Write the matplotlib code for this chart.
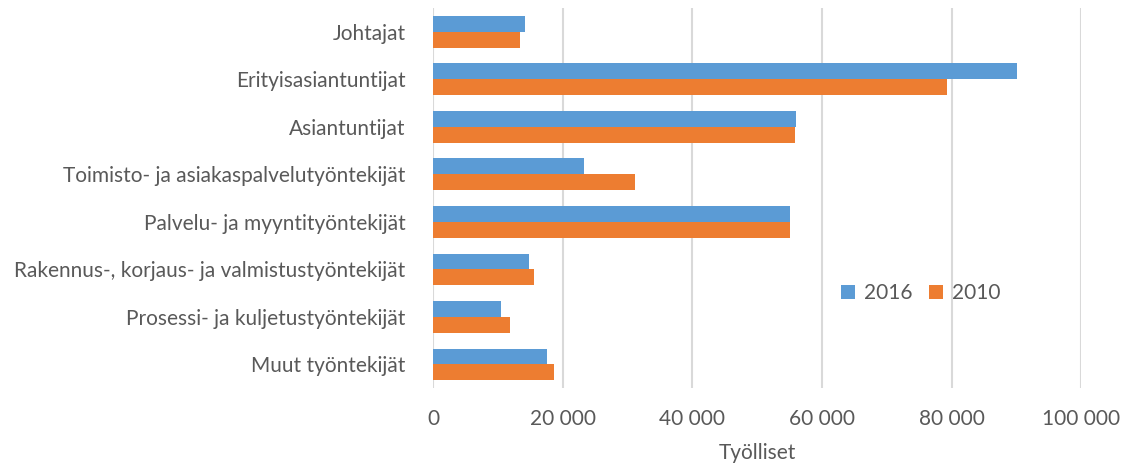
import matplotlib
matplotlib.use("Agg")
import matplotlib.pyplot as plt
import matplotlib.ticker as mticker
import numpy as np

categories = ["Johtajat", "Erityisasiantuntijat", "Asiantuntijat",
              "Toimisto- ja asiakaspalvelutyöntekijät",
              "Palvelu- ja myyntityöntekijät",
              "Rakennus-, korjaus- ja valmistustyöntekijät",
              "Prosessi- ja kuljetustyöntekijät", "Muut työntekijät"]
v2016 = [14200, 90100, 56000, 23200, 55000, 14700, 10500, 17600]
v2010 = [13300, 79300, 55900, 31200, 55000, 15500, 11800, 18600]
xticks = [0, 20000, 40000, 60000, 80000, 100000]

plt.rcParams['font.family'] = ['Lato', 'DejaVu Sans']
txt = "#595959"
fs = 15

fig = plt.figure(figsize=(11.25, 4.66), dpi=100)
ax = fig.add_axes([0.3853, 0.167, 0.9609 - 0.3853, 0.816])

y = np.arange(len(categories))
h = 0.333
ax.barh(y - h / 2, v2016, height=h, color="#5B9BD5", label="2016", zorder=3)
ax.barh(y + h / 2, v2010, height=h, color="#ED7D31", label="2010", zorder=3)

ax.set_ylim(len(categories) - 0.5, -0.5)
ax.set_xlim(0, 100000)
ax.set_yticks(y)
ax.set_yticklabels(categories, fontsize=fs, color=txt)
ax.set_xticks(xticks)
ax.xaxis.set_major_formatter(mticker.FuncFormatter(lambda v, p: f"{int(v):,}".replace(",", " ")))
for lb in ax.get_xticklabels():
    lb.set_fontsize(fs)
    lb.set_color(txt)
ax.tick_params(axis="both", length=0)
ax.tick_params(axis="x", pad=15)
ax.tick_params(axis="y", pad=20)
ax.grid(axis="x", color="#d9d9d9", linewidth=1.5, zorder=0)
for s in ax.spines.values():
    s.set_visible(False)
ax.set_xlabel("Työlliset", fontsize=fs, color=txt, labelpad=10)

leg = ax.legend(loc="upper left", bbox_to_anchor=(0.60, 0.325), ncol=2, frameon=False,
                fontsize=fs, handlelength=0.7, handleheight=0.7, handletextpad=0.4,
                columnspacing=0.8)
for t in leg.get_texts():
    t.set_color(txt)

fig.savefig("out.png", dpi=100)
